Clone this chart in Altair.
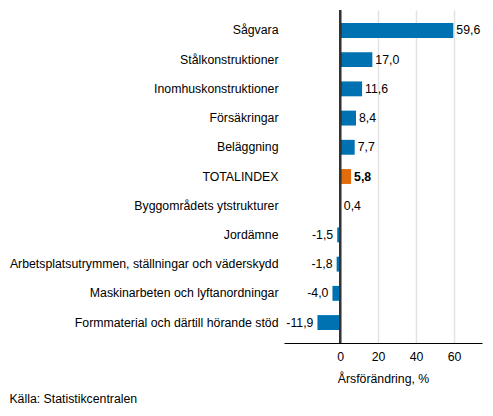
import altair as alt
import pandas as pd

categories = [
    "Sågvara",
    "Stålkonstruktioner",
    "Inomhuskonstruktioner",
    "Försäkringar",
    "Beläggning",
    "TOTALINDEX",
    "Byggområdets ytstrukturer",
    "Jordämne",
    "Arbetsplatsutrymmen, ställningar och väderskydd",
    "Maskinarbeten och lyftanordningar",
    "Formmaterial och därtill hörande stöd",
]
values = [59.6, 17.0, 11.6, 8.4, 7.7, 5.8, 0.4, -1.5, -1.8, -4.0, -11.9]
x_ticks = [0, 20, 40, 60]

df = pd.DataFrame({"cat": categories, "val": values})
df["label"] = df["val"].map(lambda v: f"{v:.1f}".replace(".", ","))
df["total"] = df["cat"] == "TOTALINDEX"

FONT = "Liberation Sans"
FS = 12.3
BLUE = "#0072b2"
ORANGE = "#e36c0a"

y_enc = alt.Y("cat:N", sort=categories, title=None,
              scale=alt.Scale(paddingInner=0.49, paddingOuter=0.445),
              axis=alt.Axis(domain=False, ticks=False, labelPadding=6,
                            labelFontSize=FS, labelColor="#000", labelFont=FONT,
                            labelLimit=400))
x_scale = alt.Scale(domain=[-29.5, 74.7], nice=False, zero=False)
x_enc = alt.X("val:Q", scale=x_scale, title="Årsförändring, %",
              axis=alt.Axis(values=x_ticks, grid=True, gridColor="#e3e3e3",
                            gridWidth=1.5, ticks=False, domainColor="#000",
                            domainWidth=1, labelFontSize=FS, labelColor="#000",
                            labelFont=FONT, labelPadding=7, titleFont=FONT,
                            titleFontSize=FS, titleFontWeight="normal",
                            titleColor="#000", titlePadding=10))

base = alt.Chart(df)

bars = base.mark_bar().encode(
    x=x_enc,
    y=y_enc,
    color=alt.condition("datum.total", alt.value(ORANGE), alt.value(BLUE)),
)

pos = base.transform_filter("datum.val >= 0 && !datum.total").mark_text(
    align="left", dx=3, font=FONT, fontSize=FS, color="#000"
).encode(x="val:Q", y=alt.Y("cat:N", sort=categories), text="label:N")

neg = base.transform_filter("datum.val < 0").mark_text(
    align="right", dx=-4, font=FONT, fontSize=FS, color="#000"
).encode(x="val:Q", y=alt.Y("cat:N", sort=categories), text="label:N")

tot = base.transform_filter("datum.total").mark_text(
    align="left", dx=3, font=FONT, fontSize=FS, fontWeight="bold", color="#000"
).encode(x="val:Q", y=alt.Y("cat:N", sort=categories), text="label:N")

zero = base.mark_rule(color="#333", strokeWidth=2).encode(x=alt.datum(0))

chart = alt.layer(bars, zero, pos, neg, tot).properties(
    width=198,
    height=333,
    autosize=alt.AutoSizeParams(type="none"),
    padding={"left": 276, "top": 2, "right": 3, "bottom": 70},
    title=alt.TitleParams("Källa: Statistikcentralen", orient="bottom",
                          anchor="start", frame="bounds", font=FONT,
                          fontSize=FS, fontWeight="normal", color="#000",
                          offset=8),
).configure_view(stroke=None)

chart.save("out.html", embed_options={"renderer": "svg", "actions": False})
